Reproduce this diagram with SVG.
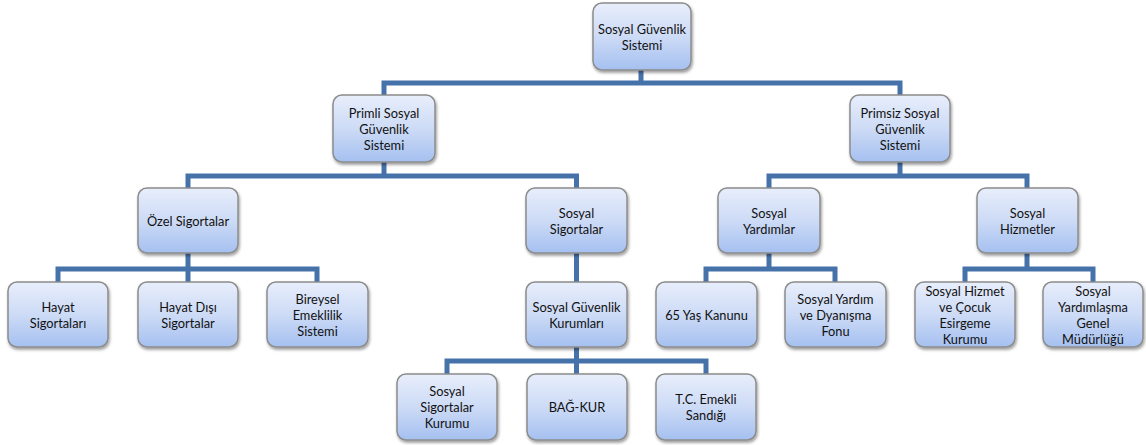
<svg xmlns="http://www.w3.org/2000/svg" width="1146" height="445" viewBox="0 0 1146 445">
<defs>
<linearGradient id="g" x1="0" y1="0" x2="0" y2="1">
<stop offset="0" stop-color="#e8eefb"/>
<stop offset="0.5" stop-color="#cddbf6"/>
<stop offset="1" stop-color="#a5c0f0"/>
</linearGradient>
<filter id="sh" x="-10%" y="-10%" width="130%" height="140%">
<feDropShadow dx="1" dy="2" stdDeviation="1.5" flood-color="#000" flood-opacity="0.4"/>
</filter>
</defs>
<style>
.box{fill:url(#g);stroke:#8c8c8c;stroke-width:1.5;filter:url(#sh)}
.t{font-family:Lato,"Open Sans","Liberation Sans",sans-serif;font-size:12.8px;fill:#111111;text-anchor:middle;dominant-baseline:central}
.c{fill:none;stroke:#4672aa;stroke-width:5;stroke-linejoin:miter;stroke-linecap:butt}
</style>
<rect width="1146" height="445" fill="#ffffff"/>
<g id="connectors">
<path class="c" d="M641 70V83M384 95V83H900V95"/>
<path class="c" d="M384 162V176M188 188V176H576.5V188"/>
<path class="c" d="M900 162V176M769 188V176H1027V188"/>
<path class="c" d="M188 253V269M58 282V269H317V282M188 269V282"/>
<path class="c" d="M576.5 253V282"/>
<path class="c" d="M769 253V269M706 282V269H835V282"/>
<path class="c" d="M1027 253V269M965 282V269H1093V282"/>
<path class="c" d="M576.5 347V361M447 374V361H706V374M576.5 361V374"/>
</g>
<g id="n-root"><rect class="box" x="593" y="3" width="98" height="67" rx="9"/><text class="t" x="642" y="28.5">Sosyal Güvenlik</text><text class="t" x="642" y="44.5">Sistemi</text></g>
<g id="n-primli"><rect class="box" x="333" y="95" width="102" height="67" rx="9"/><text class="t" x="384" y="113">Primli Sosyal</text><text class="t" x="384" y="129">Güvenlik</text><text class="t" x="384" y="145">Sistemi</text></g>
<g id="n-primsiz"><rect class="box" x="850" y="95" width="100" height="67" rx="9"/><text class="t" x="900" y="113">Primsiz Sosyal</text><text class="t" x="900" y="129">Güvenlik</text><text class="t" x="900" y="145">Sistemi</text></g>
<g id="n-ozel"><rect class="box" x="138" y="188" width="100" height="65" rx="9"/><text class="t" x="188" y="220.5">Özel Sigortalar</text></g>
<g id="n-sosyalsig"><rect class="box" x="526" y="188" width="101" height="65" rx="9"/><text class="t" x="576.5" y="212.5">Sosyal</text><text class="t" x="576.5" y="228.5">Sigortalar</text></g>
<g id="n-yardimlar"><rect class="box" x="718" y="188" width="102" height="65" rx="9"/><text class="t" x="769" y="212.5">Sosyal</text><text class="t" x="769" y="228.5">Yardımlar</text></g>
<g id="n-hizmetler"><rect class="box" x="977" y="188" width="101" height="65" rx="9"/><text class="t" x="1027.5" y="212.5">Sosyal</text><text class="t" x="1027.5" y="228.5">Hizmetler</text></g>
<g id="n-hayat"><rect class="box" x="8" y="282" width="100" height="65" rx="9"/><text class="t" x="58" y="306.5">Hayat</text><text class="t" x="58" y="322.5">Sigortaları</text></g>
<g id="n-hayatdisi"><rect class="box" x="138" y="282" width="100" height="65" rx="9"/><text class="t" x="188" y="306.5">Hayat Dışı</text><text class="t" x="188" y="322.5">Sigortalar</text></g>
<g id="n-bireysel"><rect class="box" x="267" y="282" width="101" height="65" rx="9"/><text class="t" x="317.5" y="298.5">Bireysel</text><text class="t" x="317.5" y="314.5">Emeklilik</text><text class="t" x="317.5" y="330.5">Sistemi</text></g>
<g id="n-sgk"><rect class="box" x="526" y="282" width="101" height="65" rx="9"/><text class="t" x="576.5" y="306.5">Sosyal Güvenlik</text><text class="t" x="576.5" y="322.5">Kurumları</text></g>
<g id="n-65yas"><rect class="box" x="656" y="282" width="101" height="65" rx="9"/><text class="t" x="706.5" y="314.5">65 Yaş Kanunu</text></g>
<g id="n-yardimfonu"><rect class="box" x="785" y="282" width="101" height="65" rx="9"/><text class="t" x="835.5" y="298.5">Sosyal Yardım</text><text class="t" x="835.5" y="314.5">ve Dyanışma</text><text class="t" x="835.5" y="330.5">Fonu</text></g>
<g id="n-shcek"><rect class="box" x="915" y="282" width="100" height="65" rx="9"/><text class="t" x="965" y="290.5">Sosyal Hizmet</text><text class="t" x="965" y="306.5">ve Çocuk</text><text class="t" x="965" y="322.5">Esirgeme</text><text class="t" x="965" y="338.5">Kurumu</text></g>
<g id="n-sygm"><rect class="box" x="1043" y="282" width="100" height="65" rx="9"/><text class="t" x="1093" y="290.5">Sosyal</text><text class="t" x="1093" y="306.5">Yardımlaşma</text><text class="t" x="1093" y="322.5">Genel</text><text class="t" x="1093" y="338.5">Müdürlüğü</text></g>
<g id="n-ssk"><rect class="box" x="397" y="374" width="100" height="66" rx="9"/><text class="t" x="447" y="391">Sosyal</text><text class="t" x="447" y="407">Sigortalar</text><text class="t" x="447" y="423">Kurumu</text></g>
<g id="n-bagkur"><rect class="box" x="527" y="374" width="100" height="66" rx="9"/><text class="t" x="577" y="407">BAĞ-KUR</text></g>
<g id="n-emekli"><rect class="box" x="656" y="374" width="100" height="66" rx="9"/><text class="t" x="706" y="399">T.C. Emekli</text><text class="t" x="706" y="415">Sandığı</text></g>
</svg>
